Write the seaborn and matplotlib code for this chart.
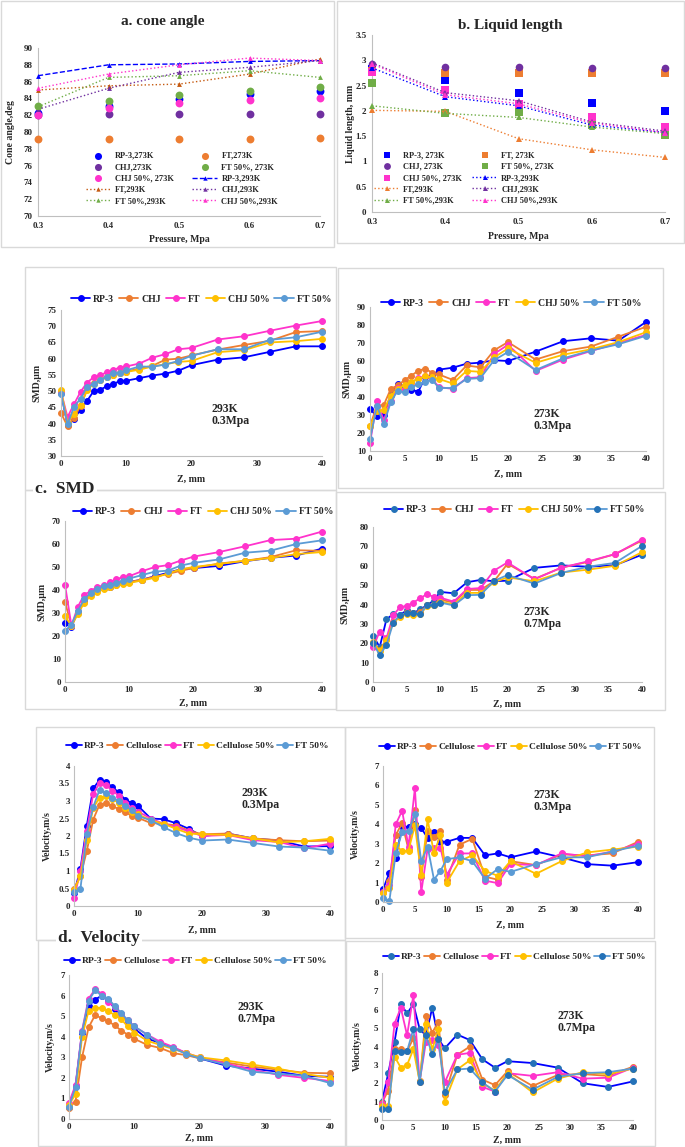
import numpy as np
import pandas as pd
import seaborn as sns
import matplotlib
matplotlib.use('Agg')
import matplotlib.pyplot as plt
from matplotlib.patches import Rectangle
from matplotlib.ticker import FuncFormatter

W, H = 685, 1147

# ---------------- data ----------------
pressure = [0.3, 0.4, 0.5, 0.6, 0.7]

# a. cone angle (deg)
cone_rp3_273 = [82.3, 83.1, 83.9, 84.5, 84.9]
cone_ft_273 = [79.2, 79.2, 79.2, 79.2, 79.3]
cone_chj_273 = [82.0, 82.1, 82.1, 82.1, 82.1]
cone_ft50_273 = [83.1, 83.7, 84.4, 84.9, 85.4]
cone_chj50_273 = [82.0, 82.8, 83.4, 83.8, 84.1]
cone_rp3_293 = [86.7, 88.0, 88.1, 88.4, 88.5]
cone_ft_293 = [85.0, 85.5, 85.7, 86.9, 88.7]
cone_chj_293 = [82.7, 85.2, 87.1, 87.7, 88.5]
cone_ft50_293 = [83.0, 86.5, 86.7, 87.3, 86.5]
cone_chj50_293 = [85.2, 86.9, 88.0, 88.8, 88.5]

# b. liquid length (mm)
liq_rp3_273 = [2.82, 2.62, 2.36, 2.16, 2.00]
liq_ft_273 = [2.78, 2.75, 2.75, 2.75, 2.75]
liq_chj_273 = [2.93, 2.87, 2.86, 2.85, 2.84]
liq_ft50_273 = [2.56, 1.96, 1.98, 1.72, 1.52]
liq_chj50_273 = [2.76, 2.42, 2.13, 1.88, 1.69]
liq_rp3_293 = [2.85, 2.28, 2.10, 1.72, 1.57]
liq_ft_293 = [2.01, 1.99, 1.45, 1.23, 1.08]
liq_chj_293 = [2.95, 2.36, 2.20, 1.78, 1.60]
liq_ft50_293 = [2.10, 1.95, 1.87, 1.68, 1.55]
liq_chj50_293 = [2.93, 2.32, 2.14, 1.76, 1.57]

z = [0, 1, 2, 3, 4, 5, 6, 7, 8, 9, 10, 12, 14, 16, 18, 20, 24, 28, 32, 36, 40]

# SMD 293K 0.3MPa
smd1_rp3 = [49.5, 39.5, 41.5, 44.3, 47.0, 50.0, 50.4, 51.5, 52.3, 53.0, 53.2, 54.0, 54.8, 55.4, 56.3, 58.0, 59.7, 60.4, 62.1, 63.8, 63.8]
smd1_chj = [43.2, 39.2, 41.8, 45.5, 50.5, 52.5, 53.5, 54.5, 55.0, 55.5, 56.0, 57.0, 57.8, 59.7, 60.0, 61.0, 62.8, 64.2, 65.5, 68.2, 68.5]
smd1_ft = [49.8, 42.0, 46.0, 49.8, 52.6, 54.3, 54.9, 55.8, 56.6, 57.2, 57.6, 58.5, 60.3, 61.4, 62.9, 63.3, 65.9, 66.9, 68.6, 70.2, 71.6]
smd1_chj50 = [50.3, 40.3, 43.0, 45.7, 50.2, 52.3, 53.5, 54.5, 55.0, 55.7, 55.9, 56.6, 57.6, 58.3, 59.0, 59.3, 62.0, 62.6, 65.0, 65.4, 66.1]
smd1_ft50 = [49.2, 39.8, 45.2, 47.7, 51.3, 52.2, 53.4, 54.5, 55.6, 55.7, 56.4, 57.6, 57.5, 58.2, 59.3, 60.9, 62.9, 62.9, 65.8, 66.6, 68.3]

# SMD 273K 0.3MPa
smd2_rp3 = [33.3, 29.3, 30.2, 41.0, 47.0, 46.0, 44.0, 43.0, 51.0, 51.5, 55.2, 56.3, 58.5, 59.1, 60.4, 60.0, 65.2, 71.0, 72.6, 71.3, 81.7]
smd2_chj = [24.0, 35.0, 35.6, 44.4, 46.5, 49.3, 51.9, 54.6, 55.7, 53.5, 52.5, 49.5, 57.5, 56.5, 66.0, 70.5, 60.8, 65.5, 68.0, 73.5, 79.0]
smd2_ft = [14.3, 37.5, 27.0, 38.0, 45.0, 44.0, 48.0, 50.5, 51.5, 50.0, 45.5, 44.5, 50.5, 51.0, 64.0, 69.0, 54.5, 60.8, 65.5, 70.0, 74.5]
smd2_chj50 = [24.0, 32.0, 33.0, 40.5, 44.5, 46.5, 48.5, 50.0, 51.5, 51.0, 50.0, 47.5, 54.5, 54.0, 62.0, 67.0, 59.0, 63.5, 66.5, 70.5, 76.0]
smd2_ft50 = [16.5, 35.0, 25.0, 37.0, 43.5, 42.5, 45.5, 47.0, 48.5, 49.5, 45.0, 45.0, 50.0, 50.5, 60.5, 65.0, 55.0, 61.5, 65.8, 69.3, 74.0]

# SMD 293K 0.7MPa
smd3_rp3 = [25.5, 24.0, 30.5, 35.5, 38.5, 40.0, 41.0, 41.5, 42.5, 43.0, 43.5, 44.5, 46.0, 47.5, 49.0, 49.5, 50.5, 52.5, 54.0, 55.0, 58.0]
smd3_chj = [34.8, 24.5, 30.5, 35.0, 38.5, 39.5, 41.0, 41.5, 42.0, 43.0, 43.5, 44.5, 45.8, 47.0, 48.3, 49.6, 51.5, 52.7, 54.3, 57.3, 57.0]
smd3_ft = [42.3, 24.5, 32.7, 38.0, 39.5, 41.3, 42.0, 43.3, 44.8, 45.5, 46.0, 48.2, 50.0, 50.8, 52.8, 54.5, 56.5, 59.0, 61.7, 62.3, 65.4]
smd3_chj50 = [28.5, 24.5, 29.5, 34.5, 37.5, 39.0, 40.5, 41.3, 42.0, 42.5, 43.0, 44.2, 45.3, 47.2, 49.0, 50.0, 51.3, 52.7, 53.9, 55.6, 56.5]
smd3_ft50 = [22.2, 25.0, 31.0, 36.0, 38.7, 40.5, 41.6, 42.0, 43.0, 44.0, 45.0, 46.5, 48.0, 48.4, 50.6, 51.8, 53.3, 56.2, 57.1, 60.0, 61.6]

# SMD 273K 0.7MPa
smd4_rp3 = [24.0, 18.0, 32.4, 35.0, 34.5, 37.0, 35.5, 37.5, 39.5, 42.0, 46.5, 45.8, 51.5, 52.7, 52.0, 52.3, 58.9, 60.2, 59.5, 60.3, 65.7]
smd4_chj = [20.0, 16.5, 22.0, 31.0, 34.0, 36.0, 35.5, 36.0, 39.5, 40.0, 42.5, 41.0, 47.5, 47.5, 52.0, 61.0, 53.2, 59.0, 62.0, 66.0, 73.0]
smd4_ft = [18.0, 26.0, 22.5, 34.5, 38.5, 39.3, 41.0, 43.2, 45.3, 44.0, 43.5, 41.5, 48.0, 48.5, 57.5, 61.7, 53.0, 59.0, 62.3, 66.0, 73.5]
smd4_chj50 = [20.5, 16.0, 21.5, 30.5, 33.5, 35.0, 34.5, 35.0, 39.0, 40.0, 41.5, 40.0, 46.0, 46.0, 51.5, 54.0, 52.0, 56.5, 58.0, 60.0, 67.0]
smd4_ft50 = [20.0, 14.0, 19.0, 30.5, 34.5, 35.5, 35.5, 35.0, 39.5, 40.0, 41.0, 39.5, 44.8, 45.0, 52.2, 55.2, 50.8, 56.3, 59.5, 61.5, 70.2]

# Velocity 293K 0.3MPa
vel1_rp3 = [0.36, 1.05, 2.30, 3.36, 3.60, 3.55, 3.39, 3.25, 3.03, 2.95, 2.86, 2.50, 2.48, 2.36, 2.20, 2.00, 2.07, 1.93, 1.87, 1.70, 1.71]
vel1_cel = [0.50, 0.85, 1.57, 2.47, 2.90, 2.93, 2.85, 2.77, 2.68, 2.58, 2.52, 2.37, 2.35, 2.30, 2.15, 2.05, 2.07, 1.93, 1.88, 1.85, 1.87]
vel1_ft = [0.22, 1.00, 2.15, 3.20, 3.52, 3.45, 3.30, 3.15, 2.95, 2.80, 2.70, 2.50, 2.35, 2.25, 2.13, 2.00, 2.03, 1.88, 1.83, 1.65, 1.78]
vel1_cel50 = [0.45, 0.85, 1.90, 2.80, 3.10, 3.13, 3.05, 2.95, 2.80, 2.70, 2.62, 2.45, 2.35, 2.20, 2.07, 2.05, 2.03, 1.93, 1.82, 1.85, 1.92]
vel1_ft50 = [0.40, 0.48, 2.05, 2.83, 3.32, 3.22, 3.10, 3.00, 2.85, 2.75, 2.57, 2.45, 2.25, 2.08, 1.95, 1.87, 1.90, 1.80, 1.70, 1.67, 1.58]

# Velocity 273K 0.3MPa
vel2_rp3 = [0.65, 1.50, 2.25, 3.90, 3.85, 4.00, 3.80, 3.30, 3.60, 3.10, 3.10, 3.30, 3.30, 2.40, 2.50, 2.30, 2.60, 2.30, 1.95, 1.87, 2.05]
vel2_cel = [0.50, 1.10, 3.45, 4.05, 2.70, 4.75, 1.30, 3.65, 3.35, 3.65, 1.15, 2.95, 3.25, 1.30, 1.15, 2.10, 1.90, 2.45, 2.40, 2.50, 3.10]
vel2_ft = [0.50, 0.85, 4.00, 4.70, 2.85, 5.85, 0.50, 2.75, 2.80, 2.80, 1.40, 2.50, 2.50, 1.10, 0.97, 1.95, 1.90, 2.50, 2.35, 2.60, 3.00]
vel2_cel50 = [0.45, 0.70, 2.95, 2.60, 2.65, 3.95, 1.40, 4.25, 2.50, 3.45, 1.00, 2.10, 2.40, 1.60, 1.35, 2.10, 1.45, 2.10, 2.55, 2.70, 2.85]
vel2_ft50 = [0.20, 0.05, 2.50, 3.60, 3.65, 4.55, 2.10, 2.85, 1.15, 1.60, 2.20, 2.30, 2.10, 1.20, 1.70, 1.55, 1.95, 2.30, 2.30, 2.60, 2.90]

# Velocity 293K 0.7MPa
vel3_rp3 = [0.60, 1.60, 4.20, 5.50, 5.80, 6.00, 5.80, 5.35, 5.10, 4.75, 4.40, 3.90, 3.70, 3.45, 3.20, 2.95, 2.60, 2.45, 2.30, 2.10, 2.05]
vel3_cel = [0.55, 0.85, 3.00, 4.45, 5.05, 4.90, 4.75, 4.55, 4.30, 4.10, 3.90, 3.60, 3.45, 3.20, 3.10, 2.95, 2.75, 2.55, 2.40, 2.25, 2.22]
vel3_ft = [0.80, 1.65, 4.30, 5.85, 6.30, 6.10, 5.70, 5.45, 5.10, 4.80, 4.50, 4.10, 3.75, 3.50, 3.20, 3.00, 2.70, 2.40, 2.15, 2.00, 1.85]
vel3_cel50 = [0.70, 1.20, 4.00, 5.25, 5.40, 5.40, 5.25, 5.05, 4.85, 4.50, 4.20, 3.80, 3.60, 3.40, 3.20, 3.00, 2.85, 2.65, 2.45, 2.20, 2.00]
vel3_ft50 = [0.60, 1.55, 4.25, 5.75, 6.25, 6.00, 5.85, 5.50, 5.15, 4.80, 4.50, 4.10, 3.65, 3.45, 3.15, 2.95, 2.65, 2.30, 2.20, 2.10, 1.75]

# Velocity 273K 0.7MPa
vel4_rp3 = [1.00, 2.55, 4.25, 6.30, 5.80, 6.30, 4.95, 4.60, 6.10, 4.40, 3.90, 4.65, 4.35, 3.30, 2.85, 3.20, 3.10, 2.85, 2.00, 1.80, 2.10]
vel4_cel = [0.95, 1.60, 3.85, 3.85, 3.75, 4.45, 2.05, 5.65, 4.75, 5.35, 1.35, 3.55, 4.00, 2.20, 1.90, 2.65, 1.85, 2.45, 2.50, 2.40, 2.90]
vel4_ft = [0.85, 2.05, 5.25, 6.10, 4.60, 6.80, 2.10, 4.25, 4.35, 4.10, 2.05, 3.55, 3.65, 1.80, 1.55, 2.55, 2.40, 2.60, 2.25, 2.30, 2.85]
vel4_cel50 = [0.75, 0.75, 3.45, 2.85, 3.00, 3.85, 2.10, 5.25, 3.85, 4.95, 1.00, 2.75, 3.25, 2.00, 1.60, 2.55, 1.50, 2.25, 2.60, 2.50, 2.80]
vel4_ft50 = [0.60, 0.58, 3.75, 3.70, 3.75, 4.95, 2.05, 4.60, 3.60, 4.40, 1.50, 2.75, 2.80, 2.05, 1.55, 2.45, 1.65, 2.35, 2.55, 2.60, 2.80]

smd_names = ['RP-3', 'CHJ', 'FT', 'CHJ 50%', 'FT 50%']
vel_names = ['RP-3', 'Cellulose', 'FT', 'Cellulose 50%', 'FT 50%']

# ---------------- style ----------------
sns.set_theme(style='white')
plt.rcParams['font.family'] = ['Liberation Serif', 'DejaVu Sans']
plt.rcParams['font.weight'] = 'bold'
plt.rcParams['axes.labelweight'] = 'bold'

BLUE, ORANGE, PURPLE, GREEN, MAGENTA = '#0000FF', '#ED7D31', '#7030A0', '#70AD47', '#FF33CC'
YELLOW, LBLUE, STEEL = '#FFC000', '#5B9BD5', '#2472B8'
AXC = '#bfbfbf'

fig = plt.figure(figsize=(W / 100, H / 100), dpi=100)


def add_ax(x0, y0, x1, y1):
    return fig.add_axes([x0 / W, 1 - y1 / H, (x1 - x0) / W, (y1 - y0) / H])


def frame(x0, y0, x1, y1):
    fig.patches.append(Rectangle((x0 / W, 1 - y1 / H), (x1 - x0) / W, (y1 - y0) / H,
                                 transform=fig.transFigure, fill=False,
                                 edgecolor='#d9d9d9', lw=1.0, zorder=0))


def style_ax(ax, xlim, ylim, xticks, yticks, ylabel, xlabel, ylab_x, xlab_y, pad=2):
    ax.set_xlim(*xlim)
    ax.set_ylim(*ylim)
    ax.set_xticks(xticks)
    ax.set_yticks(yticks)
    fmt = FuncFormatter(lambda v, p: f'{v:g}')
    ax.xaxis.set_major_formatter(fmt)
    ax.yaxis.set_major_formatter(fmt)
    for s in ['top', 'right']:
        ax.spines[s].set_visible(False)
    for s in ['left', 'bottom']:
        ax.spines[s].set_color(AXC)
        ax.spines[s].set_linewidth(0.8)
    ax.tick_params(labelsize=6.5, length=3, width=0.7, color=AXC, direction='in', pad=pad)
    for lab in ax.get_xticklabels() + ax.get_yticklabels():
        lab.set_fontweight('bold')
    ax.set_ylabel(ylabel, fontsize=7, fontweight='bold', va='center')
    ax.set_xlabel(xlabel, fontsize=7, fontweight='bold', va='center')
    ax.yaxis.set_label_coords(ylab_x, 0.5)
    ax.xaxis.set_label_coords(0.5, xlab_y)
    ax.grid(False)
    ax.set_facecolor('none')


# panel frames
for fr in [(1, 1, 334, 247), (337, 1, 684, 243), (25, 267, 336, 490), (338, 268, 663, 488),
           (25, 490, 336, 709), (336, 492, 665, 710), (36, 727, 345, 940), (345, 727, 654, 938),
           (38, 940, 345, 1146), (346, 941, 655, 1146)]:
    frame(*fr)

# ---------------- a. cone angle ----------------
ax = add_ax(38, 48, 320, 216)
for vals, c, lab in [(cone_rp3_273, BLUE, 'RP-3,273K'), (cone_ft_273, ORANGE, 'FT,273K'),
                     (cone_chj_273, PURPLE, 'CHJ,273K'), (cone_ft50_273, GREEN, 'FT 50%, 273K'),
                     (cone_chj50_273, MAGENTA, 'CHJ 50%, 273K')]:
    sns.scatterplot(x=pressure, y=vals, ax=ax, color=c, s=32, linewidth=0, label=lab,
                    clip_on=False, zorder=3)
for vals, c, ls, lab in [(cone_rp3_293, BLUE, '--', 'RP-3,293K'), (cone_ft_293, '#C55A11', ':', 'FT,293K'),
                         (cone_chj_293, PURPLE, ':', 'CHJ,293K'), (cone_ft50_293, GREEN, ':', 'FT 50%,293K'),
                         (cone_chj50_293, MAGENTA, ':', 'CHJ 50%,293K')]:
    sns.lineplot(x=pressure, y=vals, ax=ax, color=c, linestyle=ls, linewidth=1.0, marker='^',
                 markersize=3.5, markeredgewidth=0, label=lab, errorbar=None, clip_on=False, zorder=4)
style_ax(ax, (0.3, 0.7), (70, 90), pressure, np.arange(70, 91, 2), 'Cone angle,deg',
         'Pressure, Mpa', -0.096, -0.137, pad=4)
h, l = ax.get_legend_handles_labels()
hd = dict(zip(l, h))
order = ['RP-3,273K', 'CHJ,273K', 'CHJ 50%, 273K', 'FT,293K', 'FT 50%,293K',
         'FT,273K', 'FT 50%, 273K', 'RP-3,293K', 'CHJ,293K', 'CHJ 50%,293K']
ax.legend([hd[k] for k in order], order, ncol=2, loc='center', frameon=False,
          bbox_to_anchor=(182 / W, 1 - 178.5 / H), bbox_transform=fig.transFigure,
          fontsize=6, handlelength=3.0, handletextpad=0.5, columnspacing=2.2,
          labelspacing=0.4, numpoints=1, scatterpoints=1, markerscale=0.9)
fig.text(163 / W, 1 - 21 / H, 'a. cone angle', ha='center', va='center', fontsize=11, fontweight='bold')

# ---------------- b. liquid length ----------------
ax = add_ax(372, 35, 665, 212)
for vals, c, m, lab in [(liq_rp3_273, BLUE, 's', 'RP-3, 273K'), (liq_ft_273, ORANGE, 's', 'FT, 273K'),
                        (liq_chj_273, PURPLE, 'o', 'CHJ, 273K'), (liq_ft50_273, GREEN, 's', 'FT 50%, 273K'),
                        (liq_chj50_273, MAGENTA, 's', 'CHJ 50%, 273K')]:
    sns.scatterplot(x=pressure, y=vals, ax=ax, color=c, marker=m, s=30, linewidth=0, label=lab,
                    clip_on=False, zorder=3)
for vals, c, lab in [(liq_rp3_293, BLUE, 'RP-3,293K'), (liq_ft_293, ORANGE, 'FT,293K'),
                     (liq_chj_293, PURPLE, 'CHJ,293K'), (liq_ft50_293, GREEN, 'FT 50%,293K'),
                     (liq_chj50_293, MAGENTA, 'CHJ 50%,293K')]:
    sns.lineplot(x=pressure, y=vals, ax=ax, color=c, linestyle=':', linewidth=1.0, marker='^',
                 markersize=4, markeredgewidth=0, label=lab, errorbar=None, clip_on=False, zorder=4)
style_ax(ax, (0.3, 0.7), (0, 3.5), pressure, np.arange(0, 3.51, 0.5), 'Liquid length, mm',
         'Pressure, Mpa', -0.075, -0.141, pad=4)
h, l = ax.get_legend_handles_labels()
hd = dict(zip(l, h))
order = ['RP-3, 273K', 'CHJ, 273K', 'CHJ 50%, 273K', 'FT,293K', 'FT 50%,293K',
         'FT, 273K', 'FT 50%, 273K', 'RP-3,293K', 'CHJ,293K', 'CHJ 50%,293K']
ax.legend([hd[k] for k in order], order, ncol=2, loc='center', frameon=False,
          bbox_to_anchor=(466 / W, 1 - 178 / H), bbox_transform=fig.transFigure,
          fontsize=6, handlelength=3.0, handletextpad=0.5, columnspacing=1.2,
          labelspacing=0.4, numpoints=1, scatterpoints=1, markerscale=0.9)
fig.text(510 / W, 1 - 26 / H, 'b. Liquid length', ha='center', va='center', fontsize=11, fontweight='bold')


# ---------------- SMD / velocity curve panels ----------------
def curve_panel(box, series, names, colors, mcolors, xticks, ylim, yticks, ylabel,
                ylab_x, xlab_y, leg_xy, note, note_xy, leg_kw):
    ax = add_ax(*box)
    for vals, name, c, mc in zip(series, names, colors, mcolors):
        sns.lineplot(x=z, y=vals, ax=ax, color=c, linewidth=1.3, marker='o', markersize=4.2,
                     markerfacecolor=mc, markeredgecolor=mc, label=name, errorbar=None,
                     clip_on=False)
    style_ax(ax, (0, 40), ylim, xticks, yticks, ylabel, 'Z, mm', ylab_x, xlab_y, pad=3)
    ax.legend(ncol=5, loc='center', frameon=False,
              bbox_to_anchor=(leg_xy[0] / W, 1 - leg_xy[1] / H), bbox_transform=fig.transFigure,
              numpoints=1, prop={'size': leg_kw.get('size', 7), 'weight': 'bold'},
              handlelength=leg_kw.get('hl', 2.0), handletextpad=leg_kw.get('tp', 0.3),
              columnspacing=leg_kw.get('cs', 0.5))
    if note:
        fig.text(note_xy[0] / W, 1 - note_xy[1] / H, note, ha='left', va='center',
                 fontsize=8.5, fontweight='bold', linespacing=1.1)
    return ax


smd_cols = [BLUE, ORANGE, MAGENTA, YELLOW, LBLUE]
smd_kw = {'size': 7, 'hl': 2.0, 'tp': 0.3, 'cs': 0.5}
vel_kw = {'size': 6.8, 'hl': 1.7, 'tp': 0.2, 'cs': 0.3}

curve_panel((61, 310, 322, 456), [smd1_rp3, smd1_chj, smd1_ft, smd1_chj50, smd1_ft50], smd_names,
            smd_cols, smd_cols, np.arange(0, 41, 10), (30, 75), np.arange(30, 76, 5), 'SMD,μm',
            -0.092, -0.158, (201, 299), '293K\n0.3Mpa', (211, 415), smd_kw)
curve_panel((370, 307, 646, 451), [smd2_rp3, smd2_chj, smd2_ft, smd2_chj50, smd2_ft50], smd_names,
            smd_cols, smd_cols, np.arange(0, 41, 5), (10, 90), np.arange(10, 91, 10), 'SMD,μm',
            -0.083, -0.16, (511, 303), '273K\n0.3Mpa', (534, 420), smd_kw)
curve_panel((65, 521, 322, 682), [smd3_rp3, smd3_chj, smd3_ft, smd3_chj50, smd3_ft50], smd_names,
            smd_cols, smd_cols, np.arange(0, 41, 10), (0, 70), np.arange(0, 71, 10), 'SMD,μm',
            -0.089, -0.13, (203, 512), None, None, smd_kw)
curve_panel((373, 527, 642, 682), [smd4_rp3, smd4_chj, smd4_ft, smd4_chj50, smd4_ft50], smd_names,
            smd_cols, [STEEL, ORANGE, MAGENTA, YELLOW, STEEL], np.arange(0, 41, 5), (0, 80),
            np.arange(0, 81, 10), 'SMD,μm', -0.104, -0.142, (514, 510), '273K\n0.7Mpa', (523, 618), smd_kw)

curve_panel((74, 766, 330, 906), [vel1_rp3, vel1_cel, vel1_ft, vel1_cel50, vel1_ft50], vel_names,
            smd_cols, smd_cols, np.arange(0, 41, 10), (0, 4), np.arange(0, 4.01, 0.5), 'Velocity,m/s',
            -0.105, -0.171, (197, 746), '293K\n0.3Mpa', (242, 799), vel_kw)
curve_panel((383, 766, 638, 902), [vel2_rp3, vel2_cel, vel2_ft, vel2_cel50, vel2_ft50], vel_names,
            smd_cols, smd_cols, np.arange(0, 41, 5), (0, 7), np.arange(0, 8, 1), 'Velocity,m/s',
            -0.11, -0.169, (510, 747), '273K\n0.3Mpa', (534, 801), vel_kw)
curve_panel((69, 975, 330, 1119), [vel3_rp3, vel3_cel, vel3_ft, vel3_cel50, vel3_ft50], vel_names,
            smd_cols, smd_cols, np.arange(0, 41, 10), (0, 7), np.arange(0, 8, 1), 'Velocity,m/s',
            -0.073, -0.132, (195, 961), '293K\n0.7Mpa', (238, 1013), vel_kw)
curve_panel((382, 973, 633, 1120), [vel4_rp3, vel4_cel, vel4_ft, vel4_cel50, vel4_ft50], vel_names,
            smd_cols, [STEEL, ORANGE, MAGENTA, YELLOW, STEEL], np.arange(0, 41, 5), (0, 8),
            np.arange(0, 9, 1), 'Velocity,m/s', -0.1, -0.136, (514, 957), '273K\n0.7Mpa', (557, 1022), vel_kw)

# section headings breaking the frame lines
fig.text(35 / W, 1 - 489 / H, 'c.  SMD', ha='left', va='center', fontsize=12.5, fontweight='bold',
         bbox=dict(facecolor='white', edgecolor='none', pad=1.5))
fig.text(58 / W, 1 - 938 / H, 'd.  Velocity', ha='left', va='center', fontsize=12.5, fontweight='bold',
         bbox=dict(facecolor='white', edgecolor='none', pad=1.5))

fig.savefig('out.png', dpi=100, facecolor='white')
